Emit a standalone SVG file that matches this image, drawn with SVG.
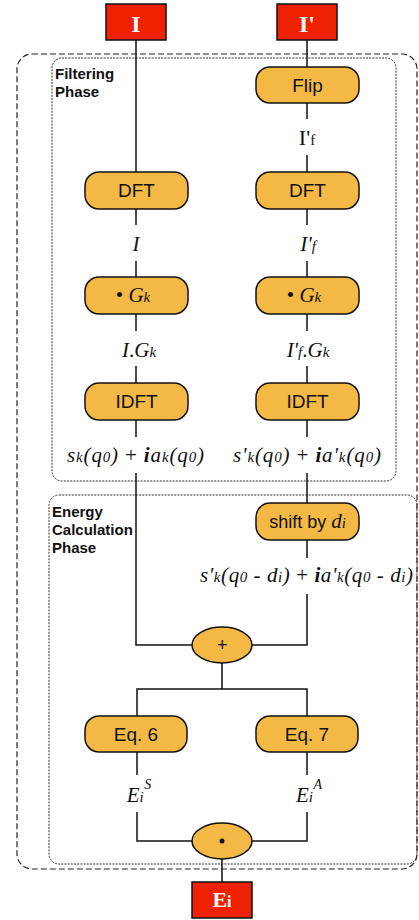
<svg xmlns="http://www.w3.org/2000/svg" width="419" height="920" viewBox="0 0 419 920">
<style>
.io{fill:#EE2200;stroke:#111;stroke-width:1.5}
.op{fill:#F4B944;stroke:#111;stroke-width:1.5}
.c{stroke:#111;stroke-width:1.5;fill:none}
.iot{font-family:"Liberation Serif",serif;font-weight:bold;fill:#fff;text-anchor:middle}
.st{font-family:"Liberation Sans",Arial,sans-serif;font-size:19px;fill:#111;text-anchor:middle}
.m{font-family:"Liberation Serif",serif;font-size:21px;font-style:italic;fill:#111;text-anchor:middle}
.s{font-size:15px}
.ph{font-family:"Liberation Sans",Arial,sans-serif;font-size:15px;font-weight:bold;fill:#111}
.outer{fill:none;stroke:#222;stroke-width:1.2;stroke-dasharray:6 3}
.inner{fill:none;stroke:#333;stroke-width:1;stroke-dasharray:2 1.2}
</style>
<g id="outer-frame"><rect class="outer" x="17" y="54" width="400" height="815" rx="15"/></g>
<g id="filtering-phase"><rect class="inner" x="52" y="58" width="344" height="423" rx="10"/>
<text class="ph" x="55" y="79">Filtering</text><text class="ph" x="55" y="97">Phase</text></g>
<g id="energy-phase"><rect class="inner" x="49" y="495" width="368" height="369" rx="10"/>
<text class="ph" x="52" y="517">Energy</text><text class="ph" x="52" y="535">Calculation</text><text class="ph" x="52" y="553">Phase</text></g>
<g id="connectors">
<path class="c" d="M136 40V172M136 209V225M136 261V277M136 314V331M136 366V383M136 420V437M136 473V645H192"/>
<path class="c" d="M307 40V67M307 103V119M307 155V172M307 209V225M307 261V277M307 314V331M307 366V383M307 420V437M307 473V503M307 540V558M307 594V645H252"/>
<path class="c" d="M222 663V689M137 716V689H307V716"/>
<path class="c" d="M137 752V775M137 812V841H192M307 752V775M307 812V841H252M222 859V882"/>
</g>
<g id="in-I"><rect class="io" x="106" y="4" width="60" height="36"/><text class="iot" x="136" y="32" font-size="24">I</text></g>
<g id="in-Ip"><rect class="io" x="277" y="4" width="60" height="36"/><text class="iot" x="307" y="32" font-size="24">I'</text></g>
<g id="flip"><rect class="op" x="256" y="67" width="103" height="36" rx="14"/><text class="st" x="307.5" y="92">Flip</text></g>
<g id="lbl-Ipf"><text x="307" y="145" font-family="Liberation Serif,serif" font-size="22" fill="#111" text-anchor="middle">I'<tspan font-size="15">f</tspan></text></g>
<g id="dft-l"><rect class="op" x="85" y="172" width="103" height="37" rx="14"/><text class="st" x="136.5" y="197">DFT</text></g>
<g id="dft-r"><rect class="op" x="256" y="172" width="103" height="37" rx="14"/><text class="st" x="307.5" y="197">DFT</text></g>
<g id="lbl-I"><text class="m" x="136" y="251">I</text></g>
<g id="lbl-Ipf2"><text class="m" x="308" y="251">I'<tspan class="s">f</tspan></text></g>
<g id="g-l"><rect class="op" x="85" y="277" width="103" height="37" rx="14"/><text class="m" x="133" y="302"><tspan font-style="normal">•</tspan> G<tspan class="s">k</tspan></text></g>
<g id="g-r"><rect class="op" x="256" y="277" width="103" height="37" rx="14"/><text class="m" x="304" y="302"><tspan font-style="normal">•</tspan> G<tspan class="s">k</tspan></text></g>
<g id="lbl-IG"><text class="m" x="139" y="357">I<tspan font-style="normal">.</tspan>G<tspan class="s">k</tspan></text></g>
<g id="lbl-IpG"><text class="m" x="308" y="357">I'<tspan class="s">f</tspan><tspan font-style="normal">.</tspan>G<tspan class="s">k</tspan></text></g>
<g id="idft-l"><rect class="op" x="85" y="383" width="103" height="37" rx="14"/><text class="st" x="136.5" y="408">IDFT</text></g>
<g id="idft-r"><rect class="op" x="256" y="383" width="103" height="37" rx="14"/><text class="st" x="307.5" y="408">IDFT</text></g>
<g id="lbl-sa"><text class="m" x="135.5" y="462" textLength="137" lengthAdjust="spacing">s<tspan class="s">k</tspan>(q<tspan class="s">0</tspan>) <tspan font-style="normal">+</tspan> <tspan font-weight="bold">i</tspan>a<tspan class="s">k</tspan>(q<tspan class="s">0</tspan>)</text></g>
<g id="lbl-spa"><text class="m" x="307" y="462" textLength="148" lengthAdjust="spacing">s'<tspan class="s">k</tspan>(q<tspan class="s">0</tspan>) <tspan font-style="normal">+</tspan> <tspan font-weight="bold">i</tspan>a'<tspan class="s">k</tspan>(q<tspan class="s">0</tspan>)</text></g>
<g id="shift"><rect class="op" x="256" y="503" width="103" height="37" rx="14"/><text x="307.5" y="528" font-family="Liberation Sans,Arial,sans-serif" font-size="18" fill="#111" text-anchor="middle">shift by <tspan font-family="Liberation Serif,serif" font-style="italic" font-size="21">d</tspan><tspan font-family="Liberation Serif,serif" font-style="italic" font-size="15">i</tspan></text></g>
<g id="lbl-shifted"><text class="m" x="306.5" y="582" textLength="213" lengthAdjust="spacing">s'<tspan class="s">k</tspan>(q<tspan class="s">0</tspan><tspan font-style="normal"> - </tspan>d<tspan class="s">i</tspan>) <tspan font-style="normal">+</tspan> <tspan font-weight="bold">i</tspan>a'<tspan class="s">k</tspan>(q<tspan class="s">0</tspan><tspan font-style="normal"> - </tspan>d<tspan class="s">i</tspan>)</text></g>
<g id="plus"><ellipse class="op" cx="222" cy="645" rx="30" ry="18"/><text x="222" y="651" font-family="Liberation Sans,Arial,sans-serif" font-style="italic" font-size="18" fill="#111" text-anchor="middle">+</text></g>
<g id="eq6"><rect class="op" x="85" y="716" width="102" height="36" rx="14"/><text class="st" x="136" y="741">Eq. 6</text></g>
<g id="eq7"><rect class="op" x="256" y="716" width="102" height="36" rx="14"/><text class="st" x="307" y="741">Eq. 7</text></g>
<g id="lbl-ES"><text class="m" x="139" y="802">E<tspan class="s">i</tspan><tspan font-size="14" dy="-13" dx="0.5">S</tspan></text></g>
<g id="lbl-EA"><text class="m" x="309" y="802">E<tspan class="s">i</tspan><tspan font-size="14" dy="-13" dx="0.5">A</tspan></text></g>
<g id="dot"><ellipse class="op" cx="222" cy="841" rx="30" ry="18"/><circle cx="222" cy="841" r="2.5" fill="#111"/></g>
<g id="out-E"><rect class="io" x="192" y="882" width="60" height="36"/><text class="iot" x="222" y="907" font-size="22">E<tspan font-size="16">i</tspan></text></g>
</svg>
